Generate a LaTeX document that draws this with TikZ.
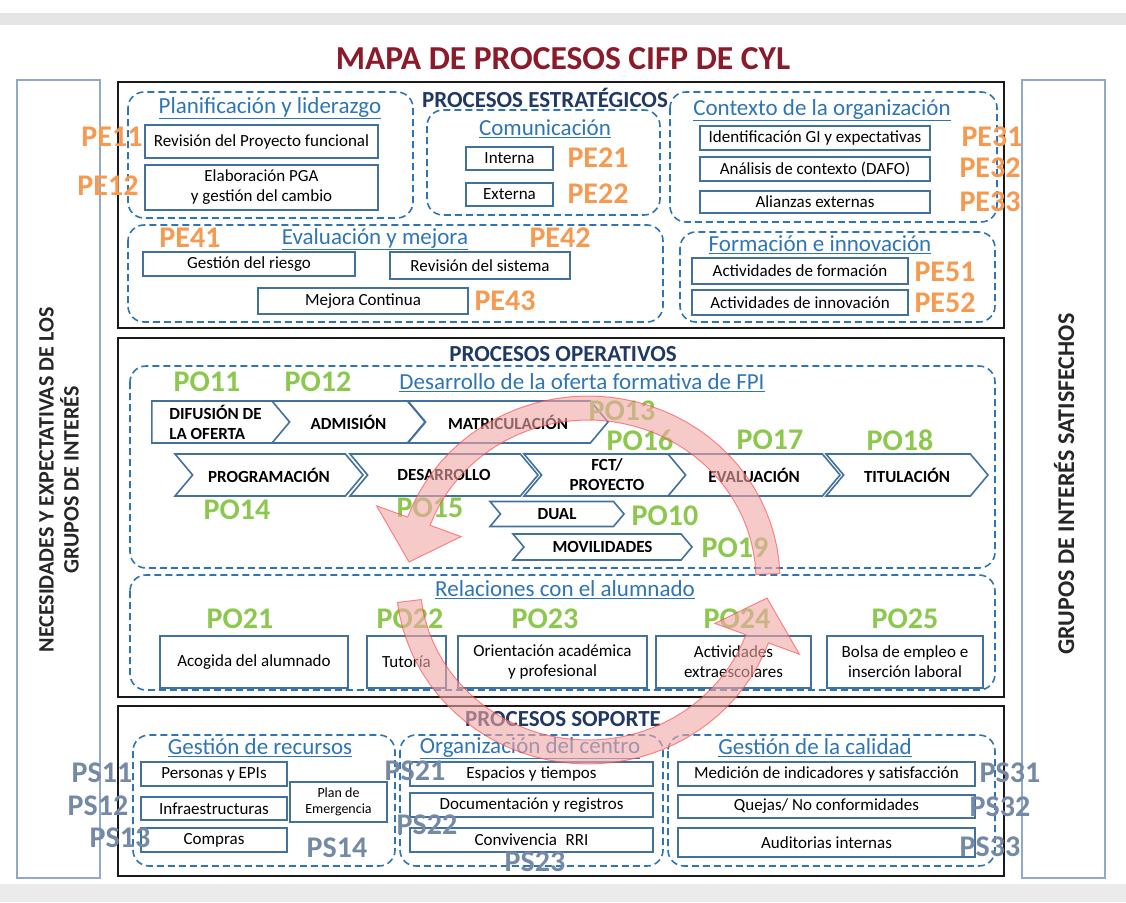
\documentclass[tikz,border=0pt]{standalone}
\usepackage{fontspec}
\setmainfont{Carlito}
\usetikzlibrary{shapes.symbols}
\definecolor{boxc}{HTML}{41719C}
\definecolor{grpc}{HTML}{2E75B6}
\definecolor{headc}{HTML}{203864}
\definecolor{sidec}{HTML}{8FAAC8}
\definecolor{pec}{HTML}{F59A50}
\definecolor{poc}{HTML}{8CC84E}
\definecolor{psc}{HTML}{7489A6}
\definecolor{redc}{HTML}{8B1A2A}
\definecolor{pinkc}{HTML}{F2A7A7}
\newcommand\bxf{\fontsize{17}{20}\selectfont}
\newcommand\grf{\fontsize{23}{26}\selectfont}
\newcommand\hdf{\fontsize{23}{26}\selectfont\bfseries}
\newcommand\cdf{\fontsize{30}{30}\selectfont\bfseries}
\newcommand\chf{\fontsize{17}{20}\selectfont\bfseries}
\begin{document}
\begin{tikzpicture}[x=1pt, y=-1pt,
  box/.style={draw=boxc, line width=1.4pt, fill=white, inner sep=1pt, align=center, font=\bxf},
  sz/.style 2 args={minimum width=#1pt, minimum height=#2pt},
  grp/.style={draw=grpc, line width=1.6pt, dash pattern=on 7pt off 4pt, rounded corners=16pt},
  blk/.style={draw=black!90, line width=2.6pt},
  side/.style={draw=sidec, line width=1.6pt},
  head/.style={text=headc, font=\hdf},
  gtit/.style={text=grpc, font=\grf},
  chev/.style={signal, signal from=west, signal to=east, signal pointer angle=100, draw=boxc, line width=1.6pt, fill=white, font=\chf, align=center, inner sep=0pt},
  home/.style={chev, signal from=nowhere},
  pe/.style={text=pec, font=\cdf},
  po/.style={text=poc, font=\cdf},
  ps/.style={text=psc, font=\cdf},
  cyc/.style={fill=pinkc, draw=red!60!pinkc, line width=1pt, fill opacity=0.6, draw opacity=0.6}]
  \useasboundingbox (0,0) rectangle (1126,902);
  \fill[black!10] (0,13) rectangle (1126,25);
  \fill[black!8] (0,884) rectangle (1126,902);

  \node[text=redc, font=\fontsize{33.5}{35}\selectfont\bfseries] (title) at (563,59) {MAPA DE PROCESOS CIFP DE CYL};

  % side boxes
  \draw[side] (17,80) rectangle (100,878);
  \draw[side] (1022,80) rectangle (1105,878);
  \node[rotate=90, align=center, text=black!85, font=\fontsize{22}{25}\selectfont\bfseries] (nec) at (59,480) {NECESIDADES Y EXPECTATIVAS DE LOS\\GRUPOS DE INTERÉS};
  \node[rotate=90, text=black!85, font=\fontsize{24}{26}\selectfont\bfseries] (sat) at (1064,484) {GRUPOS DE INTERÉS SATISFECHOS};

  % estrategicos
  \draw[blk] (118,82) rectangle (1004,328);
  \draw[grp] (128,92) rectangle (413,218);
  \draw[grp] (427,110) rectangle (660,215);
  \draw[grp] (670,92) rectangle (997,222);
  \draw[grp] (128,225) rectangle (663,322);
  \draw[grp] (680,232) rectangle (995,322);
  \node[head] (hE) at (545,98) {PROCESOS ESTRATÉGICOS};
  \node[gtit] (gPl) at (270,108) {\underline{Planificación y liderazgo}};
  \node[gtit] (gCo) at (545,129) {\underline{Comunicación}};
  \node[gtit] (gCx) at (822,110) {\underline{Contexto de la organización}};
  \node[gtit] (gEv) at (375,239) {\underline{Evaluación y mejora}};
  \node[gtit] (gFo) at (820,245) {\underline{Formación e innovación}};

  \node[box, sz={233}{33}] (e11) at (261.5,141.5) {Revisión del Proyecto funcional};
  \node[box, sz={233}{45}] (e12) at (261.5,187.5) {Elaboración PGA\\y gestión del cambio};
  \node[box, sz={87}{23}] (e21) at (509.5,158.5) {Interna};
  \node[box, sz={87}{23}] (e22) at (509.5,194.5) {Externa};
  \node[box, sz={230}{24}] (e31) at (815,138) {Identificación GI y expectativas};
  \node[box, sz={230}{24}] (e32) at (815,169) {Análisis de contexto (DAFO)};
  \node[box, sz={230}{22}] (e33) at (815,202) {Alianzas externas};
  \node[box, sz={212}{24}] (e41) at (249,264) {Gestión del riesgo};
  \node[box, sz={180}{27}] (e42) at (480,265.5) {Revisión del sistema};
  \node[box, sz={210}{26}] (e43) at (363,301) {Mejora Continua};
  \node[box, sz={216}{26}] (e51) at (800,271) {Actividades de formación};
  \node[box, sz={216}{25}] (e52) at (800,302.5) {Actividades de innovación};

  % operativos
  \draw[blk] (118,338) rectangle (1004,697);
  \draw[grp] (130,366) rectangle (995,568);
  \draw[grp] (130,575) rectangle (995,690);
  \node[head] (hO) at (563,354) {PROCESOS OPERATIVOS};
  \node[gtit] (gDe) at (582,383) {\underline{Desarrollo de la oferta formativa de FPI}};
  \node[gtit] (gRe) at (565,590) {\underline{Relaciones con el alumnado}};

  \node[home, sz={145}{42}, align=left] (dif) at (215.5,422) {DIFUSIÓN DE\\LA OFERTA};
  \node[chev, sz={153}{42}] (adm) at (348.5,422) {ADMISIÓN};
  \node[chev, sz={200}{42}] (mat) at (508,422) {MATRICULACIÓN};
  \node[chev, sz={188}{42}] (prg) at (269,475) {PROGRAMACIÓN};
  \node[chev, sz={188}{42}] (des) at (444,475) {DESARROLLO};
  \node[chev, sz={166}{42}] (fct) at (607,475) {FCT/\\PROYECTO};
  \node[chev, sz={172}{42}] (eva) at (754,475) {EVALUACIÓN};
  \node[chev, sz={162}{42}] (tit) at (907,475) {TITULACIÓN};
  \node[chev, sz={134}{25}] (dua) at (557,514) {DUAL};
  \node[chev, sz={179}{26}] (mov) at (602.5,547) {MOVILIDADES};

  \node[box, sz={188}{52}] (r21) at (254,662) {Acogida del alumnado};
  \node[box, sz={79}{52}] (r22) at (406.5,662) {Tutoría};
  \node[box, sz={189}{52}] (r23) at (552.5,662) {Orientación académica\\y profesional};
  \node[box, sz={155}{52}] (r24) at (733.5,662) {Actividades\\extraescolares};
  \node[box, sz={156}{52}] (r25) at (905,662) {Bolsa de empleo e\\inserción laboral};

  % soporte
  \draw[blk] (118,706) rectangle (1004,876);
  \draw[grp] (133,735) rectangle (395,866);
  \draw[grp] (400,735) rectangle (663,866);
  \draw[grp] (668,735) rectangle (995,866);
  \node[head] (hS) at (563,719) {PROCESOS SOPORTE};
  \node[gtit] (gGr) at (260,748) {\underline{Gestión de recursos}};
  \node[gtit] (gOr) at (530,748) {\underline{Organización del centro}};
  \node[gtit] (gCa) at (815,748) {\underline{Gestión de la calidad}};

  \node[box, sz={146}{24}] (s11) at (214,774) {Personas y EPIs};
  \node[box, sz={146}{23}] (s12) at (214,808.5) {Infraestructuras};
  \node[box, sz={146}{24}] (s13) at (214,840) {Compras};
  \node[box, sz={97}{40}, font=\fontsize{14}{16}\selectfont] (s14) at (338.5,802) {Plan de\\Emergencia};
  \node[box, sz={243}{24}] (s21) at (531.5,774) {Espacios y tiempos};
  \node[box, sz={243}{24}] (s22) at (531.5,805) {Documentación y registros};
  \node[box, sz={243}{24}] (s23) at (531.5,840) {Convivencia\enspace RRI};
  \node[box, sz={297}{24}] (s31) at (826.5,774) {Medición de indicadores y satisfacción};
  \node[box, sz={297}{23}] (s32) at (826.5,806.5) {Quejas/ No conformidades};
  \node[box, sz={297}{29}] (s33) at (826.5,842.5) {Auditorias internas};

  % codigos
  \node[pe] (pe11) at (112,137) {PE11};
  \node[pe] (pe12) at (108,186) {PE12};
  \node[pe] (pe21) at (598,158) {PE21};
  \node[pe] (pe22) at (598,194) {PE22};
  \node[pe] (pe31) at (992,137) {PE31};
  \node[pe] (pe32) at (990,168) {PE32};
  \node[pe] (pe33) at (990,202) {PE33};
  \node[pe] (pe41) at (190,238) {PE41};
  \node[pe] (pe42) at (560,238) {PE42};
  \node[pe] (pe43) at (505,301) {PE43};
  \node[pe] (pe51) at (945,272) {PE51};
  \node[pe] (pe52) at (945,303) {PE52};
  \node[po] (po11) at (207,382) {PO11};
  \node[po] (po12) at (318,382) {PO12};
  \node[po] (po13) at (622,411) {PO13};
  \node[po] (po16) at (640,440) {PO16};
  \node[po] (po17) at (770,440) {PO17};
  \node[po] (po18) at (900,440) {PO18};
  \node[po] (po14) at (237,510) {PO14};
  \node[po] (po15) at (430,508) {PO15};
  \node[po] (po10) at (665,516) {PO10};
  \node[po] (po19) at (735,548) {PO19};
  \node[po] (po21) at (240,619) {PO21};
  \node[po] (po22) at (410,619) {PO22};
  \node[po] (po23) at (545,619) {PO23};
  \node[po] (po24) at (737,619) {PO24};
  \node[po] (po25) at (905,619) {PO25};
  \node[ps] (ps11) at (102,773) {PS11};
  \node[ps] (ps12) at (98,806) {PS12};
  \node[ps] (ps13) at (120,838) {PS13};
  \node[ps] (ps14) at (337,848) {PS14};
  \node[ps] (ps21) at (415,771) {PS21};
  \node[ps] (ps22) at (427,825) {PS22};
  \node[ps] (ps23) at (535,862) {PS23};
  \node[ps] (ps31) at (1010,773) {PS31};
  \node[ps] (ps32) at (1000,807) {PS32};
  \node[ps] (ps33) at (990,847) {PS33};

  % ciclo
  \draw[cyc] plot[domain=-2:-160, samples=40] ({588+192*cos(\x)},{580+184*sin(\x)})
    -- ({588+225*cos(-160)},{580+217*sin(-160)})
    -- ({588+180*cos(-174)},{580+172*sin(-174)})
    -- ({588+135*cos(-160)},{580+127*sin(-160)})
    -- plot[domain=-160:-2, samples=40] ({588+168*cos(\x)},{580+160*sin(\x)}) -- cycle;
  \draw[cyc] plot[domain=173:20, samples=40] ({588+192*cos(\x)},{580+184*sin(\x)})
    -- ({588+225*cos(20)},{580+217*sin(20)})
    -- ({588+180*cos(6)},{580+172*sin(6)})
    -- ({588+135*cos(20)},{580+127*sin(20)})
    -- plot[domain=20:173, samples=40] ({588+168*cos(\x)},{580+160*sin(\x)}) -- cycle;
\end{tikzpicture}
\end{document}
